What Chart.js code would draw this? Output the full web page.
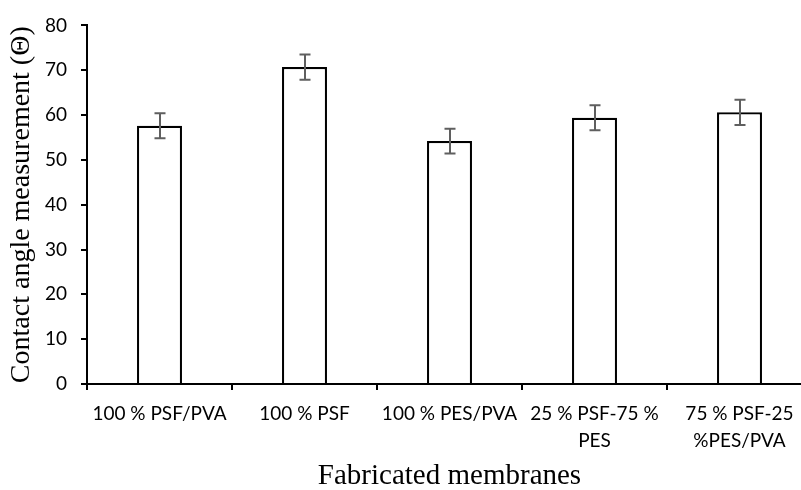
<!DOCTYPE html>
<html>
<head>
<meta charset="utf-8">
<script src="https://cdn.jsdelivr.net/npm/chart.js@4"></script>
<style>
  html, body { margin: 0; padding: 0; background: #fff; overflow: hidden; }
  #wrap { width: 814px; height: 490px; }
</style>
</head>
<body>
<div id="wrap"><canvas id="angles"></canvas></div>
<script>
const membranes = [
  '100 % PSF/PVA',
  '100 % PSF',
  '100 % PES/PVA',
  ['25 % PSF-75 %', 'PES'],
  ['75 % PSF-25', '%PES/PVA']
]
const contactAngle = [57.6, 70.7, 54.2, 59.4, 60.6]
const angleError = [2.8, 2.8, 2.75, 2.8, 2.8]
const yTicks = [0, 10, 20, 30, 40, 50, 60, 70, 80]

const tickFont = { family: 'Lato', size: 19 }
const serif = 'Liberation Serif'

// whiskers for the standard deviation of each membrane
const errorBars = {
  id: 'errorBars',
  afterDatasetsDraw(chart) {
    const { ctx } = chart
    const y = chart.scales.y
    const bars = chart.getDatasetMeta(0).data
    ctx.save()
    ctx.strokeStyle = '#5f5f5f'
    ctx.lineWidth = 2
    bars.forEach((bar, i) => {
      const top = y.getPixelForValue(contactAngle[i] + angleError[i])
      const bottom = y.getPixelForValue(contactAngle[i] - angleError[i])
      const x = Math.round(bar.x)
      ctx.beginPath()
      ctx.moveTo(x, top)
      ctx.lineTo(x, bottom)
      ctx.moveTo(x - 5.5, top)
      ctx.lineTo(x + 5.5, top)
      ctx.moveTo(x - 5.5, bottom)
      ctx.lineTo(x + 5.5, bottom)
      ctx.stroke()
    })
    ctx.restore()
  }
}

new Chart(document.getElementById('angles'), {
  type: 'bar',
  data: {
    labels: membranes,
    datasets: [{
      data: contactAngle,
      backgroundColor: '#fff',
      borderColor: '#000',
      borderWidth: 2.2,
      categoryPercentage: 1,
      barPercentage: 0.31
    }]
  },
  options: {
    responsive: true,
    maintainAspectRatio: false,
    animation: false,
    layout: { padding: { top: 20, right: 2, left: 0, bottom: 0 } },
    plugins: { legend: { display: false }, tooltip: { enabled: false } },
    scales: {
      x: {
        grid: { display: true, drawOnChartArea: false, drawTicks: true, tickLength: 6, color: '#000', lineWidth: 2 },
        border: { color: '#000', width: 2 },
        ticks: { color: '#000', font: { ...tickFont, lineHeight: 1.45 }, padding: 10, maxRotation: 0, autoSkip: false },
        title: { display: true, text: 'Fabricated membranes', color: '#000', font: { family: serif, size: 29, lineHeight: 1 }, padding: { bottom: -1 } },
        afterFit(scale) { scale.height = 106 }
      },
      y: {
        min: 0,
        max: 80,
        afterBuildTicks(scale) { scale.ticks = yTicks.map(v => ({ value: v })) },
        grid: { display: true, drawOnChartArea: false, drawTicks: true, tickLength: 6, color: '#000', lineWidth: 2 },
        border: { color: '#000', width: 2 },
        ticks: { color: '#000', font: tickFont, padding: 14 },
        title: { display: true, text: 'Contact angle measurement (Θ)', color: '#000', font: { family: serif, size: 28, lineHeight: 1 }, padding: { top: 8 } },
        afterFit(scale) { scale.width = 87 }
      }
    }
  },
  plugins: [errorBars]
})
</script>
</body>
</html>
